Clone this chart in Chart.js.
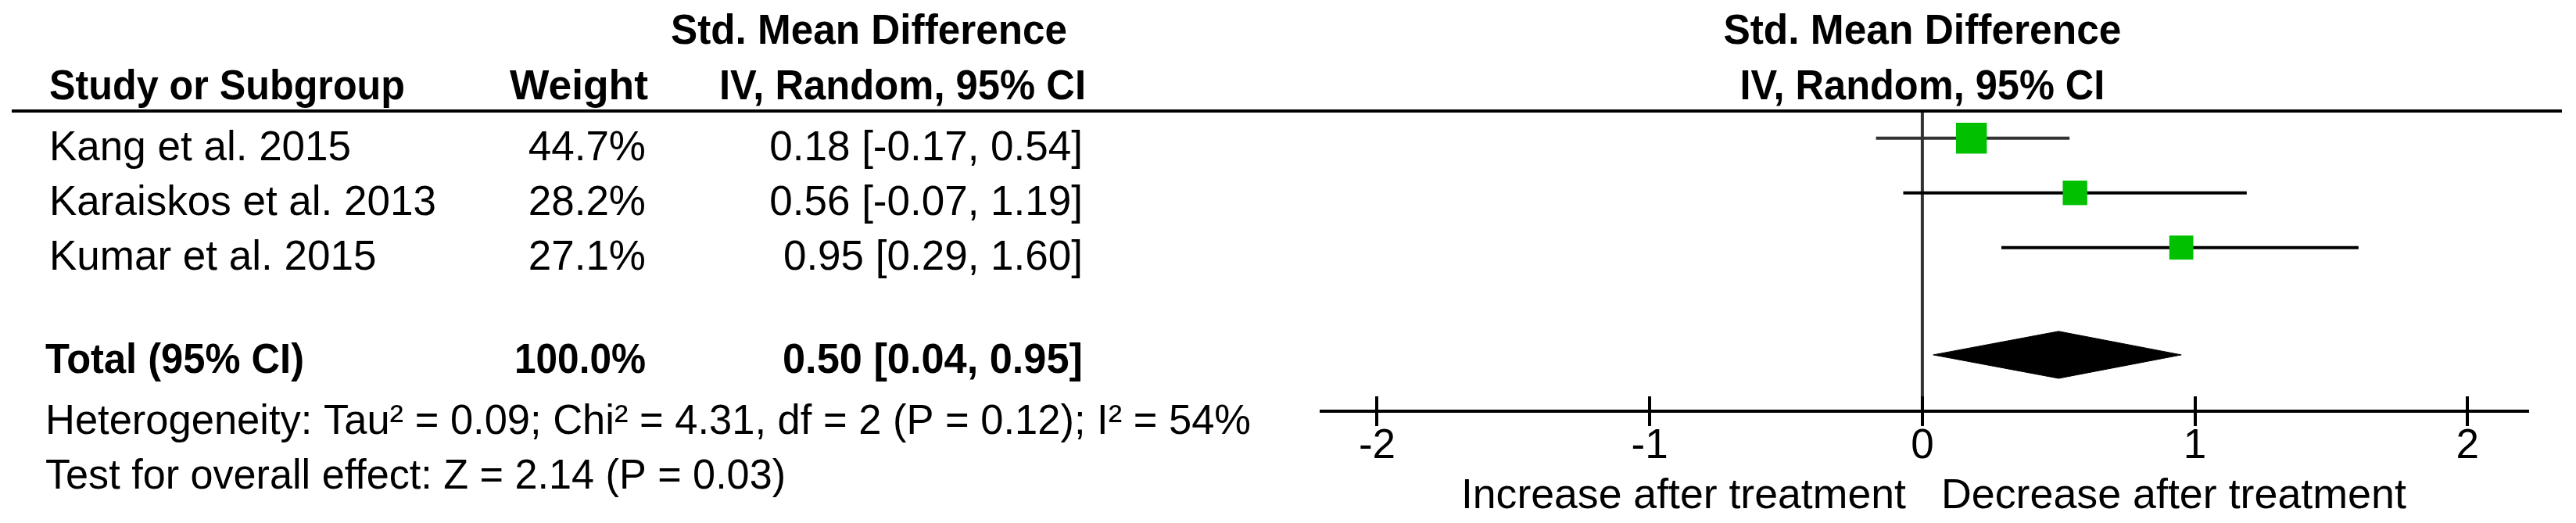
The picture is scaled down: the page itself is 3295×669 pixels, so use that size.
<!DOCTYPE html>
<html><head><meta charset="utf-8">
<script src="https://cdn.jsdelivr.net/npm/chart.js@4.4.1/dist/chart.umd.min.js"></script>
<style>html,body{margin:0;padding:0;background:#fff;}#wrap{width:3295px;height:669px;position:relative;}</style>
</head><body><div id="wrap"><canvas id="c" width="3295" height="669"></canvas></div>
<script>
// ---- data ----
const studies = ["Kang et al. 2015", "Karaiskos et al. 2013", "Kumar et al. 2015"];
const weights = [44.7, 28.2, 27.1];
const smd = [0.18, 0.56, 0.95];
const ciLow = [-0.17, -0.07, 0.29];
const ciHigh = [0.54, 1.19, 1.60];
const totalLabel = "Total (95% CI)";
const totalWeight = 100.0;
const totalSmd = 0.50;
const totalLow = 0.04;
const totalHigh = 0.95;
const xTicks = [-2, -1, 0, 1, 2];
const heterogeneityText = "Heterogeneity: Tau\u00B2 = 0.09; Chi\u00B2 = 4.31, df = 2 (P = 0.12); I\u00B2 = 54%";
const overallText = "Test for overall effect: Z = 2.14 (P = 0.03)";
const leftLabel = "Increase after treatment";
const rightLabel = "Decrease after treatment";
const headerTop = "Std. Mean Difference";
const headerBottom = "IV, Random, 95% CI";

// ---- layout / style ----
const FONT = '"Liberation Sans", Arial, sans-serif';
const FS = 53;
const totalRow = 3.96;
const ciColors = ['#333333', '#000000', '#000000'];
const GREEN = 'rgb(0,192,0)';

function fmt(v) { return v.toFixed(2); }
function ciText(m, l, h) { return fmt(m) + ' [' + fmt(l) + ', ' + fmt(h) + ']'; }

function drawText(ctx, text, x, y, o) {
  ctx.save();
  ctx.font = (o.bold ? 'bold ' : '') + FS + 'px ' + FONT;
  ctx.fillStyle = '#000';
  ctx.textBaseline = 'alphabetic';
  ctx.textAlign = 'left';
  const w = ctx.measureText(text).width;
  const sx = o.width ? o.width / w : 1;
  const tw = w * sx;
  let left = x;
  if (o.align === 'right') left = x - tw;
  else if (o.align === 'center') left = x - tw / 2;
  ctx.translate(left, y);
  ctx.scale(sx, 1);
  ctx.fillText(text, 0, 0);
  ctx.restore();
}

const forestPlugin = {
  id: 'forest',
  afterDraw(chart) {
    const ctx = chart.ctx;
    const xs = chart.scales.x, ys = chart.scales.y;
    const area = chart.chartArea;
    // header rule
    ctx.save();
    ctx.fillStyle = '#000';
    ctx.fillRect(15, 140, 3262, 4);
    // upper half of tick marks
    xs.ticks.forEach(t => {
      const px = Math.round(xs.getPixelForValue(t.value));
      ctx.fillRect(px - 2, area.bottom - 19, 4, 19);
    });
    ctx.restore();

    const zero = xs.getPixelForValue(0);
    // headers
    drawText(ctx, headerTop, 858, 56, {bold: true, width: 507});
    drawText(ctx, "Study or Subgroup", 63, 127, {bold: true, width: 455});
    drawText(ctx, "Weight", 829, 127, {bold: true, align: 'right', width: 177});
    drawText(ctx, headerBottom, 920, 127, {bold: true, width: 469});
    drawText(ctx, headerTop, zero, 56, {bold: true, align: 'center', width: 509});
    drawText(ctx, headerBottom, zero, 127, {bold: true, align: 'center', width: 467});

    // study rows
    studies.forEach((s, i) => {
      const y = ys.getPixelForValue(i) + 28.3;
      drawText(ctx, s, 63, y, {});
      drawText(ctx, weights[i].toFixed(1) + '%', 826, y, {align: 'right'});
      drawText(ctx, ciText(smd[i], ciLow[i], ciHigh[i]), 1385, y, {align: 'right'});
    });
    // total
    drawText(ctx, totalLabel, 58, 477, {bold: true, width: 331});
    drawText(ctx, totalWeight.toFixed(1) + '%', 826, 477, {bold: true, align: 'right', width: 168});
    drawText(ctx, ciText(totalSmd, totalLow, totalHigh), 1385, 477, {bold: true, align: 'right', width: 384});
    drawText(ctx, heterogeneityText, 58, 555, {width: 1542});
    drawText(ctx, overallText, 58, 625, {width: 947});
    // direction labels
    drawText(ctx, leftLabel, zero - 21, 650, {align: 'right', width: 569});
    drawText(ctx, rightLabel, zero + 24, 650, {width: 595});
  }
};

const dH = 0.43;
const datasets = [];
datasets.push({
  label: 'SMD',
  data: studies.map((s, i) => ({x: smd[i], y: i})),
  pointStyle: 'rect',
  pointRadius: weights.map(w => 5.9 * Math.sqrt(w) / Math.SQRT2),
  pointHoverRadius: weights.map(w => 5.9 * Math.sqrt(w) / Math.SQRT2),
  backgroundColor: GREEN,
  borderWidth: 0,
  showLine: false
});
studies.forEach((s, i) => {
  datasets.push({
    label: s,
    data: [{x: ciLow[i], y: i}, {x: ciHigh[i], y: i}],
    showLine: true,
    borderColor: ciColors[i],
    borderWidth: 4,
    pointRadius: 0,
    fill: false
  });
});
datasets.push({
  label: 'Total',
  data: [
    {x: totalLow, y: totalRow},
    {x: totalSmd, y: totalRow - dH},
    {x: totalHigh, y: totalRow},
    {x: totalSmd, y: totalRow + dH},
    {x: totalLow, y: totalRow}
  ],
  showLine: true,
  borderColor: '#000',
  backgroundColor: '#000',
  borderWidth: 1,
  pointRadius: 0,
  fill: 'shape'
});
datasets.push({
  label: 'zero',
  data: [{x: 0, y: -0.467}, {x: 0, y: 4.99}],
  showLine: true,
  borderColor: '#333333',
  borderWidth: 4,
  pointRadius: 0,
  fill: false
});

new Chart(document.getElementById('c'), {
  type: 'scatter',
  data: {datasets},
  options: {
    responsive: false,
    animation: false,
    devicePixelRatio: 1,
    layout: {padding: {left: 1690, right: 62, top: 144, bottom: 71}},
    plugins: {legend: {display: false}, tooltip: {enabled: false}},
    scales: {
      x: {
        type: 'linear',
        min: -2.205,
        max: 2.22,
        afterBuildTicks: (scale) => { scale.ticks = xTicks.map(v => ({value: v})); },
        border: {display: true, width: 4, color: '#000'},
        grid: {drawOnChartArea: false, drawTicks: true, tickLength: 19, lineWidth: 4, color: '#000'},
        ticks: {
          includeBounds: false,
          padding: 0,
          color: '#000',
          font: {family: FONT, size: FS, lineHeight: 1}
        }
      },
      y: {
        type: 'linear',
        reverse: true,
        min: -0.467,
        max: 4.99,
        display: false
      }
    }
  },
  plugins: [forestPlugin]
});
</script>
</body></html>
